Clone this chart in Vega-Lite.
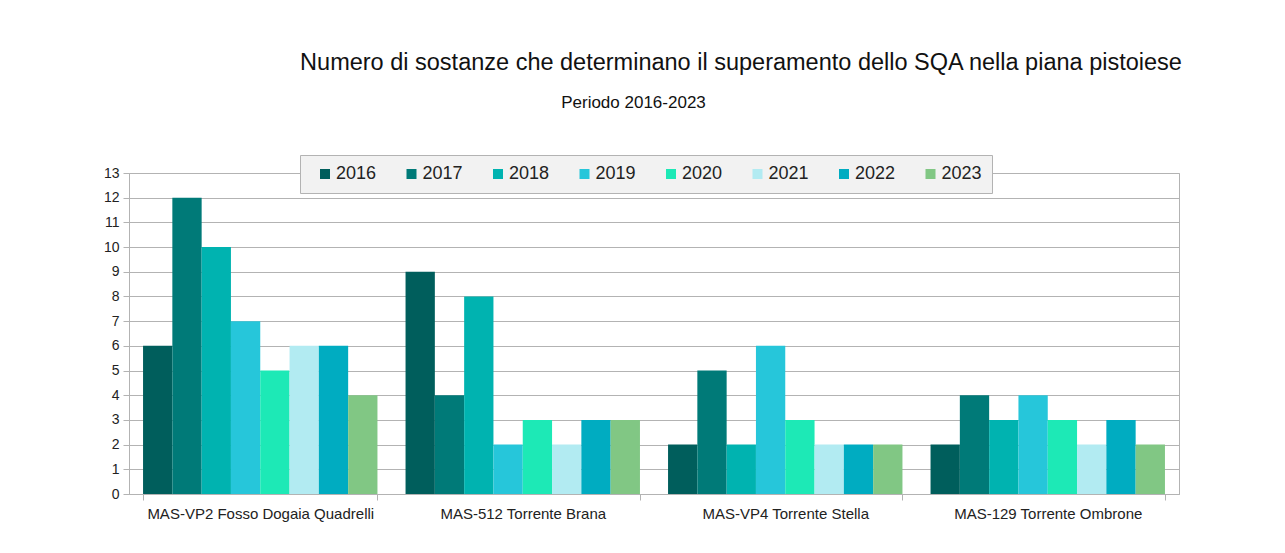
{
  "$schema": "https://vega.github.io/schema/vega-lite/v6.json",
  "width": 1050,
  "height": 321,
  "autosize": {"type": "none"},
  "padding": {"left": 129, "top": 173, "right": 106, "bottom": 59},
  "background": "white",
  "title": {
    "text": "Numero di sostanze che determinano il superamento dello SQA nella piana pistoiese",
    "anchor": "middle",
    "frame": "group",
    "dx": 87,
    "offset": 19,
    "font": "Liberation Sans",
    "fontSize": 23.5,
    "fontWeight": "normal",
    "color": "#111"
  },
  "config": {
    "font": "Liberation Sans",
    "view": {"stroke": "#b3b3b3"}
  },
  "data": {
    "values": [
      {"site": "MAS-VP2 Fosso Dogaia Quadrelli", "year": "2016", "n": 6},
      {"site": "MAS-VP2 Fosso Dogaia Quadrelli", "year": "2017", "n": 12},
      {"site": "MAS-VP2 Fosso Dogaia Quadrelli", "year": "2018", "n": 10},
      {"site": "MAS-VP2 Fosso Dogaia Quadrelli", "year": "2019", "n": 7},
      {"site": "MAS-VP2 Fosso Dogaia Quadrelli", "year": "2020", "n": 5},
      {"site": "MAS-VP2 Fosso Dogaia Quadrelli", "year": "2021", "n": 6},
      {"site": "MAS-VP2 Fosso Dogaia Quadrelli", "year": "2022", "n": 6},
      {"site": "MAS-VP2 Fosso Dogaia Quadrelli", "year": "2023", "n": 4},
      {"site": "MAS-512 Torrente Brana", "year": "2016", "n": 9},
      {"site": "MAS-512 Torrente Brana", "year": "2017", "n": 4},
      {"site": "MAS-512 Torrente Brana", "year": "2018", "n": 8},
      {"site": "MAS-512 Torrente Brana", "year": "2019", "n": 2},
      {"site": "MAS-512 Torrente Brana", "year": "2020", "n": 3},
      {"site": "MAS-512 Torrente Brana", "year": "2021", "n": 2},
      {"site": "MAS-512 Torrente Brana", "year": "2022", "n": 3},
      {"site": "MAS-512 Torrente Brana", "year": "2023", "n": 3},
      {"site": "MAS-VP4 Torrente Stella", "year": "2016", "n": 2},
      {"site": "MAS-VP4 Torrente Stella", "year": "2017", "n": 5},
      {"site": "MAS-VP4 Torrente Stella", "year": "2018", "n": 2},
      {"site": "MAS-VP4 Torrente Stella", "year": "2019", "n": 6},
      {"site": "MAS-VP4 Torrente Stella", "year": "2020", "n": 3},
      {"site": "MAS-VP4 Torrente Stella", "year": "2021", "n": 2},
      {"site": "MAS-VP4 Torrente Stella", "year": "2022", "n": 2},
      {"site": "MAS-VP4 Torrente Stella", "year": "2023", "n": 2},
      {"site": "MAS-129 Torrente Ombrone", "year": "2016", "n": 2},
      {"site": "MAS-129 Torrente Ombrone", "year": "2017", "n": 4},
      {"site": "MAS-129 Torrente Ombrone", "year": "2018", "n": 3},
      {"site": "MAS-129 Torrente Ombrone", "year": "2019", "n": 4},
      {"site": "MAS-129 Torrente Ombrone", "year": "2020", "n": 3},
      {"site": "MAS-129 Torrente Ombrone", "year": "2021", "n": 2},
      {"site": "MAS-129 Torrente Ombrone", "year": "2022", "n": 3},
      {"site": "MAS-129 Torrente Ombrone", "year": "2023", "n": 2}
    ]
  },
  "mark": {"type": "bar"},
  "encoding": {
    "x": {
      "field": "site",
      "type": "nominal",
      "sort": null,
      "scale": {"paddingInner": 0.107, "paddingOuter": 0.0535},
      "axis": {
        "title": null,
        "labelAngle": 0,
        "labelFontSize": 15,
        "labelLimit": 0,
        "labelColor": "#222",
        "labelPadding": 6,
        "tickBand": "extent",
        "tickSize": 6,
        "tickColor": "#b3b3b3",
        "domainColor": "#b3b3b3"
      }
    },
    "xOffset": {
      "field": "year",
      "type": "nominal",
      "scale": {"paddingInner": 0, "paddingOuter": 0}
    },
    "y": {
      "field": "n",
      "type": "quantitative",
      "scale": {"domain": [0, 13], "nice": false},
      "axis": {
        "title": "Periodo 2016-2023",
        "titleAngle": 0,
        "titleAlign": "center",
        "titleBaseline": "alphabetic",
        "titleX": 504,
        "titleY": -66,
        "titleFontSize": 17,
        "titleFontWeight": "normal",
        "titleColor": "#111",
        "values": [0, 1, 2, 3, 4, 5, 6, 7, 8, 9, 10, 11, 12, 13],
        "labelFontSize": 14,
        "labelColor": "#222",
        "labelPadding": 4,
        "tickSize": 6,
        "tickColor": "#b3b3b3",
        "domainColor": "#b3b3b3",
        "gridColor": "#b3b3b3"
      }
    },
    "color": {
      "field": "year",
      "type": "nominal",
      "scale": {
        "domain": ["2016", "2017", "2018", "2019", "2020", "2021", "2022", "2023"],
        "range": ["#005e5c", "#007a78", "#00b3b0", "#26c6da", "#1de9b6", "#b2ebf2", "#00acc1", "#81c784"]
      },
      "legend": {
        "title": null,
        "orient": "none",
        "legendX": 171,
        "legendY": -18,
        "direction": "horizontal",
        "symbolType": "square",
        "symbolSize": 100,
        "symbolStrokeWidth": 0,
        "symbolOffset": 6,
        "labelFontSize": 18,
        "labelColor": "#222",
        "labelOffset": 2,
        "columnPadding": 19.5,
        "padding": 10,
        "fillColor": "#f2f2f2",
        "strokeColor": "#b3b3b3"
      }
    }
  }
}
